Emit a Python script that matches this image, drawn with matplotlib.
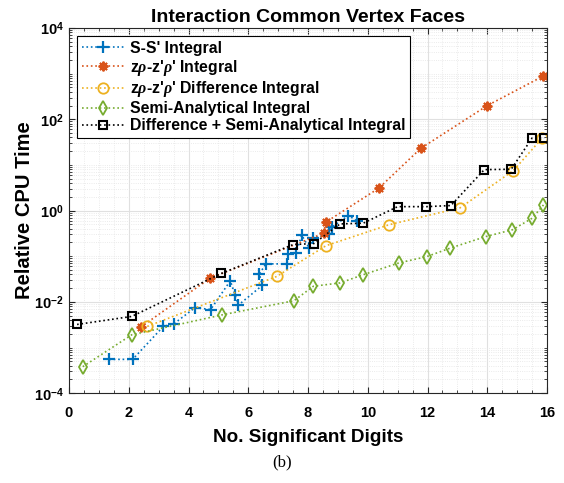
#!/usr/bin/env python
# -*- coding: utf-8 -*-

"""Relative CPU time vs. number of significant digits for the
interaction common vertex face integrals."""

import matplotlib
import matplotlib.pyplot as plt
from matplotlib.ticker import FixedLocator, MultipleLocator, NullFormatter

matplotlib.use("Agg")

# S-S' Integral
ss_x = [1.35, 2.13, 3.16, 3.51, 4.22, 4.74, 5.40, 5.56, 5.67, 6.47, 6.37,
        6.59, 7.28, 7.34, 7.60, 7.79, 8.04, 8.18, 8.71, 8.79, 9.35, 9.63]
ss_y = [0.00055, 0.00055, 0.0029, 0.0033, 0.0075, 0.0068, 0.029, 0.014,
        0.0085, 0.023, 0.041, 0.068, 0.068, 0.11, 0.12, 0.29, 0.15, 0.25,
        0.31, 0.43, 0.78, 0.60]

# z rho - z' rho' Integral
zr_x = [2.40, 4.72, 8.53, 8.60, 10.37, 11.77, 14.00, 15.85]
zr_y = [0.0028, 0.033, 0.32, 0.56, 3.1, 23.0, 200.0, 870.0]

# z rho - z' rho' Difference Integral
zd_x = [2.62, 6.95, 8.60, 10.71, 13.09, 14.87, 15.84]
zd_y = [0.0029, 0.036, 0.17, 0.49, 1.15, 7.5, 39.0]

# Semi-Analytical Integral
sa_x = [0.46, 2.10, 5.13, 7.53, 8.18, 9.07, 9.83, 11.06, 11.97, 12.75,
        13.95, 14.84, 15.50, 15.88]
sa_y = [0.00038, 0.0019, 0.0052, 0.0106, 0.022, 0.026, 0.039, 0.072,
        0.098, 0.15, 0.27, 0.38, 0.68, 1.33]

# Difference + Semi-Analytical Integral
ds_x = [0.27, 2.10, 5.10, 7.50, 8.20, 9.07, 9.85, 11.00, 11.96, 12.78,
        13.90, 14.80, 15.50, 15.90]
ds_y = [0.0032, 0.0048, 0.042, 0.18, 0.19, 0.51, 0.53, 1.22, 1.22, 1.29,
        7.9, 8.05, 39.0, 39.0]

labels = ["S-S' Integral",
          r"z$\rho$-z'$\rho$' Integral",
          r"z$\rho$-z'$\rho$' Difference Integral",
          "Semi-Analytical Integral",
          "Difference + Semi-Analytical Integral"]

plt.rcParams["font.family"] = ["Liberation Sans", "DejaVu Sans"]
plt.rcParams["font.weight"] = "bold"
plt.rcParams["mathtext.fontset"] = "custom"
plt.rcParams["mathtext.it"] = "Liberation Serif:italic"
plt.rcParams["mathtext.rm"] = "Liberation Sans:bold"

fig = plt.figure(figsize=(5.64, 4.83), dpi=100)
ax = fig.add_axes([0.1223, 0.186, 0.8477, 0.756])

ax.plot(ss_x, ss_y, ":", color="#0072BD", marker="+", markersize=8,
        markeredgewidth=1.6, linewidth=1.2, label=labels[0])
ax.plot(zr_x, zr_y, ":", color="#D95319", marker=(8, 2, 0), markersize=7,
        markeredgewidth=1.4, linewidth=1.2, label=labels[1])
ax.plot(zd_x, zd_y, ":", color="#EDB120", marker="o", markersize=7.5,
        markerfacecolor="none", markeredgewidth=1.3, linewidth=1.2,
        label=labels[2])
ax.plot(sa_x, sa_y, ":", color="#77AC30", marker="d", markersize=7.5,
        markerfacecolor="none", markeredgewidth=1.3, linewidth=1.2,
        label=labels[3])
ax.plot(ds_x, ds_y, ":", color="black", marker="s", markersize=5.5,
        markerfacecolor="none", markeredgewidth=1.5, linewidth=1.2,
        label=labels[4])

ax.set_yscale("log")
ax.set_xlim(0, 16)
ax.set_ylim(1e-4, 1e4)
ax.set_xticks(range(0, 17, 2))
ax.xaxis.set_minor_locator(MultipleLocator(0.5))
ax.yaxis.set_major_locator(FixedLocator([1e-4, 1e-2, 1e0, 1e2, 1e4]))
minor = [m * 10.0 ** k for k in range(-4, 4) for m in range(2, 10)] + \
        [10.0 ** k for k in (-3, -1, 1, 3)]
ax.yaxis.set_minor_locator(FixedLocator(minor))
ax.yaxis.set_minor_formatter(NullFormatter())
ax.set_yticklabels([r"10$^{-4}$", r"10$^{-2}$", r"10$^{0}$", r"10$^{2}$",
                    r"10$^{4}$"])

ax.grid(True, which="major", color="#e0e0e0", linewidth=0.8, linestyle="-")
ax.grid(True, which="minor", color="#e4e4e4", linewidth=0.6, linestyle=":")
ax.set_axisbelow(True)
ax.tick_params(which="both", direction="in", top=True, right=True,
               labelsize=10.5, color="#262626")
ax.tick_params(which="major", length=4)
ax.tick_params(which="minor", length=2)
ax.tick_params(axis="x", which="major", pad=9)
for spine in ax.spines.values():
    spine.set_color("#262626")

ax.set_title("Interaction Common Vertex Faces", fontsize=14,
             fontweight="bold", pad=4)
ax.set_xlabel("No. Significant Digits", fontsize=13.6, fontweight="bold",
              labelpad=7)
ax.set_ylabel("Relative CPU Time", fontsize=14.5, fontweight="bold",
              labelpad=0)

leg = ax.legend(loc="upper left", fontsize=11.4, frameon=True, fancybox=False,
                framealpha=1, edgecolor="black", borderaxespad=0.5,
                borderpad=0.3, handlelength=2.7, handletextpad=0.35,
                labelspacing=0.12)
leg.get_frame().set_linewidth(0.8)

fig.text(0.5, 0.042, "(b)", ha="center", va="center", fontsize=12,
         family="Liberation Serif", fontweight="normal")

fig.savefig("out.png", dpi=100)
